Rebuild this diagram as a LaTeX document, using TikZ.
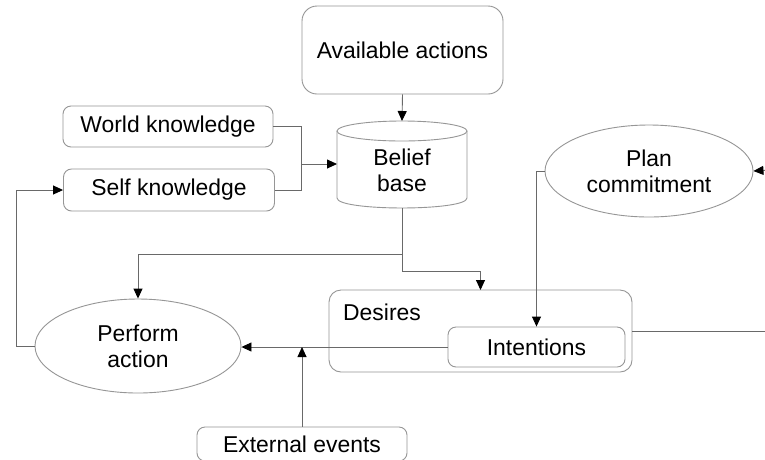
\documentclass[tikz,border=0pt]{standalone}
\usepackage{fontspec}
\setmainfont{Liberation Sans}
\usetikzlibrary{arrows.meta,shapes.geometric}
\definecolor{linegray}{RGB}{105,105,105}
\definecolor{boxgray}{RGB}{150,150,150}

\tikzset{
  lbl/.style={font=\fontsize{22.9}{26}\selectfont, align=center, inner sep=0pt},
  roundbox/.style={lbl, draw=boxgray, line width=0.9pt, rounded corners=8pt},
  oval/.style={lbl, ellipse, draw=boxgray, line width=0.9pt},
  wire/.style={draw=linegray, line width=0.9pt},
  flow/.style={wire, -{Triangle[length=10pt,width=9pt,black]}}
}

\begin{document}
\begin{tikzpicture}[x=1pt,y=-1pt]

  % ── CANVAS ─────────────────────────────────────────────────────────────────
  \clip (0,0) rectangle (765,459);
  \fill[white] (0,0) rectangle (765,459);

  % ── KNOWLEDGE SOURCES ──────────────────────────────────────────────────────
  \node[roundbox, rounded corners=15pt, minimum width=201, minimum height=88]
    (avail) at (402.5,50) {Available actions};

  \node[roundbox, minimum width=210, minimum height=41]
    (world) at (168,126.5) {World knowledge};
  \node[roundbox, minimum width=211, minimum height=42]
    (self) at (169,190) {Self knowledge};

  % belief base drawn as a cylinder round its text
  \node[lbl] (belief) at (402,170) {Belief\\base};
  \coordinate (beltop) at (402,121);
  \coordinate (belbot) at (402,208);
  \coordinate (belleft) at (337,164);
  \draw[boxgray, line width=0.9pt] (402,131) ellipse [x radius=65, y radius=10];
  \draw[boxgray, line width=0.9pt]
    (337,131) -- (337,198) .. controls (337,211.3) and (467,211.3) .. (467,198) -- (467,131);

  % ── PLANNING ───────────────────────────────────────────────────────────────
  \node[oval, minimum width=208, minimum height=92]
    (plan) at (649,171) {Plan\\commitment};

  \draw[roundbox, rounded corners=12pt] (329,290) rectangle (632,372);
  \coordinate (desires) at (480.5,331);
  \node[lbl, anchor=west] (destext) at (343,312) {Desires};

  \node[roundbox, minimum width=177, minimum height=40]
    (intent) at (536.5,347) {Intentions};

  % ── ACTION ─────────────────────────────────────────────────────────────────
  \node[oval, minimum width=206, minimum height=94]
    (perform) at (138,346) {Perform\\action};

  \node[roundbox, minimum width=210, minimum height=34]
    (extev) at (302,444) {External events};

  % ── CONNECTORS ─────────────────────────────────────────────────────────────
  \coordinate (join) at (301,164);
  \coordinate (planin) at (770,170);
  \coordinate (desout) at (770,331);
  \coordinate (desin) at (480.5,290);

  \draw[flow] (avail.south) -- (beltop);
  \draw[wire] (world.east) -| (join);
  \draw[wire] (self.east) -| (join);
  \draw[flow] (join) -- (belleft);

  \draw[flow] (belbot) -- ++(0,46) -| (perform.north);
  \draw[flow] (belbot) -- ++(0,63) -| (desin);

  \draw[flow] (planin) -- (plan.east);
  \draw[flow] (plan.west) -| (intent.north);
  \draw[wire] (632,331) -- (desout);

  \draw[flow] (intent.west) -- (perform.east |- intent.west);
  \draw[flow] (extev.north) -- (extev.north |- intent.west);
  \draw[flow] (perform.west) -- ++(-18,0) |- (self.west);

\end{tikzpicture}
\end{document}
